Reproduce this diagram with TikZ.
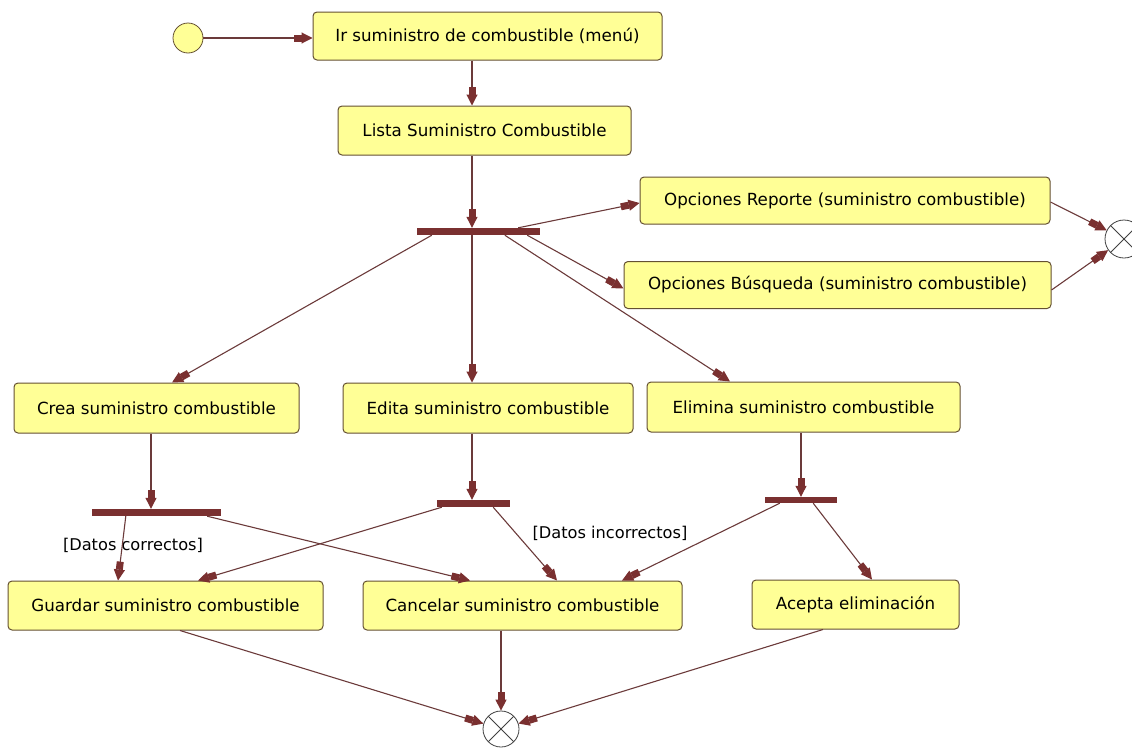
\documentclass[tikz,border=0pt]{standalone}
\usepackage{fontspec}
\setmainfont{DejaVu Sans}
\usetikzlibrary{arrows.meta}

\definecolor{boxfill}{RGB}{255,255,150}
\definecolor{boxline}{RGB}{100,80,50}
\definecolor{linec}{RGB}{107,58,58}
\definecolor{tipc}{RGB}{122,48,48}

\tikzset{
  activity/.style={draw=boxline, line width=1pt, fill=boxfill, rounded corners=4pt,
    inner sep=0pt, font=\fontsize{16.7}{20}\selectfont},
  syncbar/.style={draw=none, fill=tipc, inner sep=0pt, minimum height=7pt},
  startnode/.style={circle, draw=boxline, line width=0.8pt, fill=boxfill, inner sep=0pt,
    minimum size=30pt},
  endnode/.style={circle, draw=black!75, line width=0.8pt, fill=white, inner sep=0pt,
    path picture={
      \draw[black!75, line width=0.8pt]
        (path picture bounding box.north west) -- (path picture bounding box.south east)
        (path picture bounding box.north east) -- (path picture bounding box.south west);}},
  guard/.style={inner sep=0pt, font=\fontsize{16.2}{19}\selectfont},
  flow/.style={draw=linec, line width=1.1pt,
    -{Rectangle[length=8pt,width=7pt,sep=0pt,color=tipc] Triangle[length=11pt,width=11pt,color=tipc]}}
}

\begin{document}
\begin{tikzpicture}[x=1pt, y=-1pt]
\useasboundingbox (0,0) rectangle (1132,747);

% initial and final states
\node[startnode] (start) at (188,38) {};
\node[endnode, minimum size=38pt] (endR) at (1124,239) {};
\node[endnode, minimum size=36pt] (endB) at (501,729) {};

% activities
\node[activity, minimum width=349pt, minimum height=48pt] (ir) at (487.5,36) {Ir suministro de combustible (menú)};
\node[activity, minimum width=293pt, minimum height=49pt] (lista) at (484.5,130.5) {Lista Suministro Combustible};
\node[activity, minimum width=410pt, minimum height=47pt] (rep) at (845,200.5) {Opciones Reporte (suministro combustible)};
\node[activity, minimum width=427pt, minimum height=47pt] (bus) at (837.5,285) {Opciones Búsqueda (suministro combustible)};
\node[activity, minimum width=285pt, minimum height=50pt] (crea) at (156.5,408) {Crea suministro combustible};
\node[activity, minimum width=290pt, minimum height=50pt] (edita) at (488,408) {Edita suministro combustible};
\node[activity, minimum width=313pt, minimum height=50pt] (elim) at (803.5,407) {Elimina suministro combustible};
\node[activity, minimum width=315pt, minimum height=49pt] (guardar) at (165.5,605.5) {Guardar suministro combustible};
\node[activity, minimum width=319pt, minimum height=49pt] (cancelar) at (522.5,605.5) {Cancelar suministro combustible};
\node[activity, minimum width=207pt, minimum height=49pt] (acepta) at (855.5,604.5) {Acepta eliminación};

% synchronisation bars
\node[syncbar, minimum width=123pt] (bar1) at (478.5,231.5) {};
\node[syncbar, minimum width=129pt] (bar2) at (156.5,512.5) {};
\node[syncbar, minimum width=73pt] (bar3) at (473.5,503.5) {};
\node[syncbar, minimum width=72pt, minimum height=6pt] (bar4) at (801,500) {};

% guard labels
\node[guard] (gok) at (133,545) {[Datos correctos]};
\node[guard] (gbad) at (610,533) {[Datos incorrectos]};

% transitions
\draw[flow] (start.east) -- (ir.west |- start.east);
\draw[flow] ([xshift=-15.5pt]ir.south) -- ([xshift=-12.5pt]lista.north);
\draw[flow] ([xshift=-12.5pt]lista.south) -- ([xshift=-6.5pt]bar1.north);

\draw[flow] ([xshift=-6.5pt]bar1.south) -- ([xshift=-16pt]edita.north);
\draw[flow] ([xshift=15pt]bar1.south west) -- ([xshift=15.5pt]crea.north);
\draw[flow] ([xshift=88pt]bar1.south west) -- ([xshift=-73.5pt]elim.north);
\draw[flow] ([xshift=-22pt]bar1.north east) -- ([yshift=-2.5pt]rep.west);
\draw[flow] ([xshift=-13pt]bar1.south east) -- ([yshift=-3.5pt]bus.west);

\draw[flow] ([yshift=-1.5pt]rep.east) -- (endR);
\draw[flow] ([yshift=-5pt]bus.east) -- (endR);

\draw[flow] ([xshift=-5.5pt]crea.south) -- ([xshift=-5.5pt]bar2.north);
\draw[flow] ([xshift=-16pt]edita.south) -- ([xshift=-1.5pt]bar3.north);
\draw[flow] ([xshift=-2.5pt]elim.south) -- (bar4.north);

\draw[flow] ([xshift=34pt]bar2.south west) -- ([xshift=-47.5pt]guardar.north);
\draw[flow] ([xshift=-14pt]bar2.south east) -- ([xshift=-52.5pt]cancelar.north);
\draw[flow] ([xshift=5pt]bar3.south west) -- ([xshift=32.5pt]guardar.north);
\draw[flow] ([xshift=-17pt]bar3.south east) -- ([xshift=34.5pt]cancelar.north);
\draw[flow] ([xshift=15pt]bar4.south west) -- ([xshift=99.5pt]cancelar.north);
\draw[flow] ([xshift=-24pt]bar4.south east) -- ([xshift=16.5pt]acepta.north);

\draw[flow] ([xshift=14.5pt]guardar.south) -- (endB);
\draw[flow] ([xshift=-21.5pt]cancelar.south) -- (endB);
\draw[flow] ([xshift=-32.5pt]acepta.south) -- (endB);
\end{tikzpicture}
\end{document}
